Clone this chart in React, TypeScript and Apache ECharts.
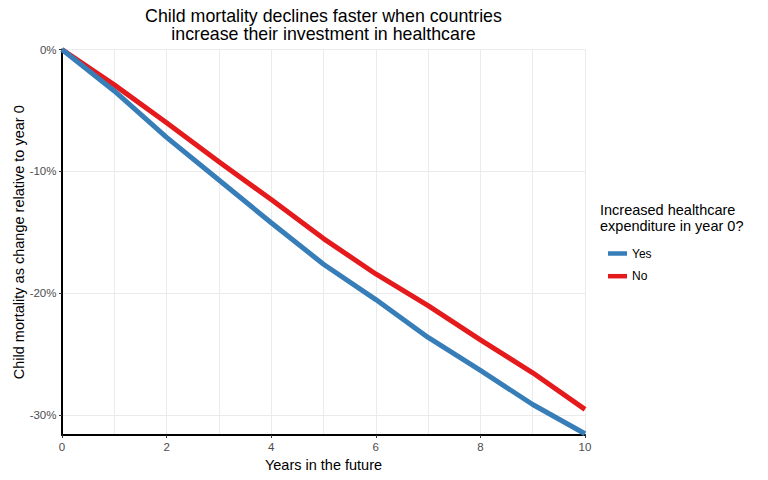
import React, { useEffect, useRef } from "react";
import * as echarts from "echarts";

const years = [0, 1, 2, 3, 4, 5, 6, 7, 8, 9, 10];
const yesValues = [0, -3.4, -7.2, -10.7, -14.2, -17.6, -20.5, -23.6, -26.3, -29.1, -31.5];
const noValues = [0, -2.9, -6.0, -9.2, -12.3, -15.5, -18.4, -21.0, -23.8, -26.5, -29.5];
const yTickValues = [-30, -20, -10, 0];
const seriesNames = ["Yes", "No"];
const titleLines = [
  "Child mortality declines faster when countries",
  "increase their investment in healthcare",
];
const legendTitleLines = ["Increased healthcare", "expenditure in year 0?"];
const xAxisTitle = "Years in the future";
const yAxisTitle = "Child mortality as change relative to year 0";

const FONT = "'Liberation Sans', Arial, sans-serif";
const BLUE = "#377EB8";
const RED = "#E41A1C";
const GRID_COLOR = "#EBEBEB";

export default function App() {
  const ref = useRef<HTMLDivElement>(null);

  useEffect(() => {
    if (!ref.current) return;
    const chart = echarts.init(ref.current, undefined, { renderer: "svg" });
    const gridLeft = 62;
    const gridRight = 768 - 585;
    const gridTop = 49.5;
    const gridBottom = 480 - 435;
    const plotCenter = (gridLeft + 585) / 2;

    const toPairs = (vals: number[]) => years.map((y, i) => [y, vals[i]]);

    chart.setOption({
      animation: false,
      backgroundColor: "#ffffff",
      grid: {
        left: gridLeft,
        right: gridRight,
        top: gridTop,
        bottom: gridBottom,
        containLabel: false,
        outerBoundsMode: "none",
      },
      xAxis: {
        type: "value",
        min: 0,
        max: 10,
        interval: 2,
        name: xAxisTitle,
        nameLocation: "middle",
        nameGap: 22,
        nameMoveOverlap: false,
        nameTextStyle: { fontFamily: FONT, fontSize: 14.5, color: "#000000" },
        axisLine: { show: true, onZero: false, lineStyle: { color: "#000000", width: 2 } },
        axisTick: { show: true, length: 3, lineStyle: { color: "#333333", width: 1 } },
        axisLabel: {
          fontFamily: FONT,
          fontSize: 11.5,
          color: "#4D4D4D",
          margin: 6,
        },
        splitLine: { show: true, lineStyle: { color: GRID_COLOR, width: 1 } },
        minorTick: { show: false, splitNumber: 2 },
        minorSplitLine: { show: true, lineStyle: { color: GRID_COLOR, width: 1 } },
      },
      yAxis: {
        type: "value",
        min: -31.6,
        max: 0,
        splitNumber: 6,
        name: yAxisTitle,
        nameLocation: "middle",
        nameGap: 36,
        nameMoveOverlap: false,
        nameTextStyle: { fontFamily: FONT, fontSize: 14.5, color: "#000000" },
        axisLine: { show: true, onZero: false, lineStyle: { color: "#000000", width: 2 } },
        axisTick: {
          show: true,
          length: 3,
          customValues: yTickValues,
          lineStyle: { color: "#333333", width: 1 },
        },
        axisLabel: {
          fontFamily: FONT,
          fontSize: 11.5,
          color: "#4D4D4D",
          margin: 5.5,
          customValues: yTickValues,
          formatter: (v: number) => `${Math.round(v)}%`,
        },
        splitLine: { show: true, lineStyle: { color: GRID_COLOR, width: 1 } },
      },
      legend: {
        data: seriesNames,
        orient: "vertical",
        left: 603,
        top: 241.5,
        itemWidth: 19,
        itemHeight: 4.5,
        itemGap: 8.7,
        icon: "rect",
        selectedMode: false,
        textStyle: { fontFamily: FONT, fontSize: 12, color: "#000000", lineHeight: 14 },
      },
      graphic: [
        {
          type: "text",
          x: plotCenter,
          y: 25,
          style: {
            text: titleLines.join("\n"),
            font: `17.8px ${FONT}`,
            lineHeight: 17.5,
            fill: "#000000",
            textAlign: "center",
            textVerticalAlign: "middle",
          },
        },
        {
          type: "text",
          x: 600,
          y: 218,
          style: {
            text: legendTitleLines.join("\n"),
            font: `14.5px ${FONT}`,
            lineHeight: 16,
            fill: "#000000",
            textAlign: "left",
            textVerticalAlign: "middle",
          },
        },
      ],
      series: [
        {
          name: "No",
          type: "line",
          data: toPairs(noValues),
          showSymbol: false,
          symbol: "none",
          lineStyle: { color: RED, width: 5, cap: "butt", join: "round" },
          itemStyle: { color: RED },
          z: 3,
        },
        {
          name: "Yes",
          type: "line",
          data: toPairs(yesValues),
          showSymbol: false,
          symbol: "none",
          lineStyle: { color: BLUE, width: 5, cap: "butt", join: "round" },
          itemStyle: { color: BLUE },
          z: 4,
        },
      ],
    });

    return () => chart.dispose();
  }, []);

  return (
    <div
      ref={ref}
      style={{ position: "fixed", left: 0, top: 0, width: 768, height: 480, background: "#fff" }}
    />
  );
}
